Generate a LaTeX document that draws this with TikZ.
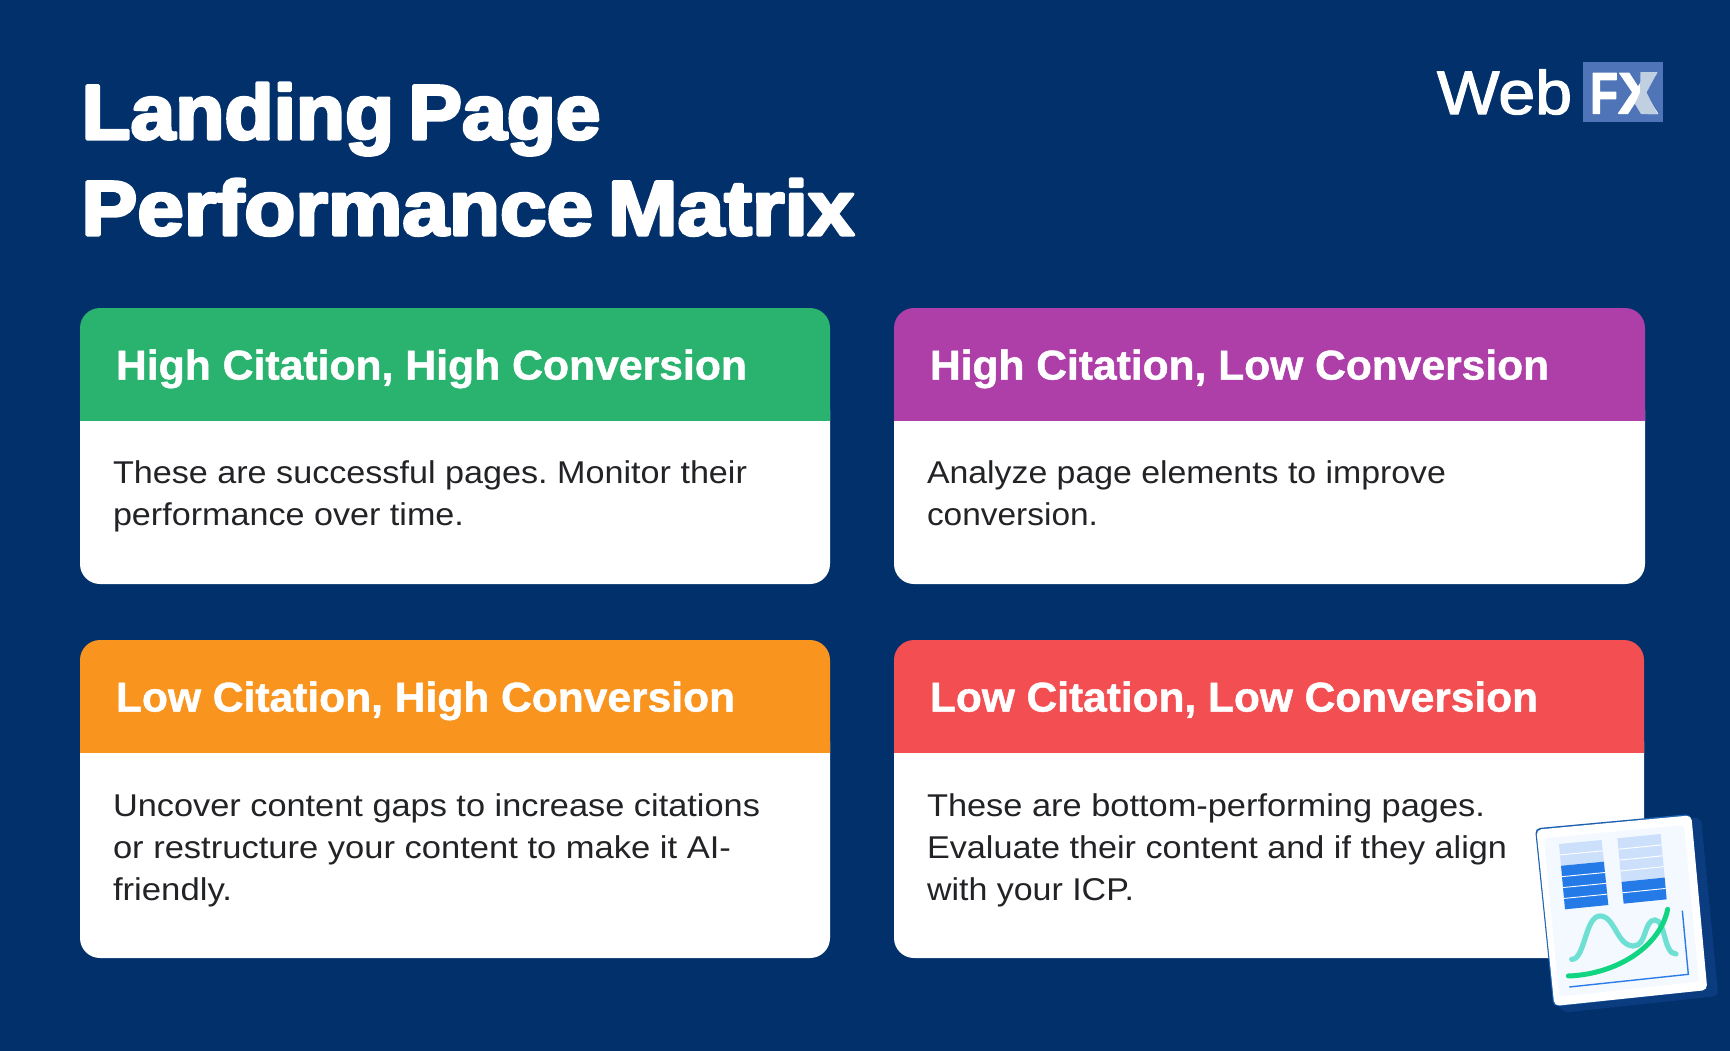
\documentclass[tikz,border=0pt]{standalone}
\usepackage{fontspec}
\usepackage{graphicx}
\usetikzlibrary{calc}
\setmainfont{Liberation Sans}
\newfontfamily\titlefont{Liberation Sans Bold}
\newfontfamily\headfont{Liberation Sans Bold}
\newfontfamily\logofont{Liberation Sans}
\newfontfamily\logobold{Liberation Sans Bold}
\newcommand\fitw[2]{\resizebox{#1pt}{\height}{#2}}
\newcommand\heavy[3]{\special{pdf:code 2 Tr 1 j #1 w #2 RG}#3\special{pdf:code 0 Tr 0 j 0 w}}
\definecolor{bgblue}{HTML}{01306B}
\definecolor{cardgreen}{HTML}{2AB36F}
\definecolor{cardpurple}{HTML}{AE3FA8}
\definecolor{cardorange}{HTML}{F9951F}
\definecolor{cardred}{HTML}{F34F52}
\definecolor{bodyink}{HTML}{222326}
\definecolor{logobox}{HTML}{4F75B8}
\definecolor{logolight}{HTML}{C0D0E0}
\definecolor{barlight}{HTML}{CCE0FC}
\definecolor{bardark}{HTML}{247BE8}
\definecolor{sheetline}{HTML}{1D5FB0}
\definecolor{sheetshadow}{HTML}{0C3C80}
\definecolor{sheetpanel}{HTML}{F4F8FF}
\definecolor{curveteal}{HTML}{6EE0D3}
\definecolor{curvegreen}{HTML}{11D580}
\definecolor{axisblue}{HTML}{2A7DE8}
\tikzset{
  txt/.style={inner sep=0pt,outer sep=0pt,anchor=base west},
  titletext/.style={txt,text=white,font=\titlefont\fontsize{77.5}{77.5}\selectfont},
  headtext/.style={txt,text=white,font=\headfont\fontsize{41.5}{41.5}\selectfont\frenchspacing},
  bodytext/.style={txt,text=bodyink,font=\fontsize{31.5}{31.5}\selectfont\frenchspacing},
}
\begin{document}
\begin{tikzpicture}[x=1pt,y=-1pt]
\useasboundingbox (0,0) rectangle (1730,1050);
\fill[bgblue] (-3,-3) rectangle (1733,1053);
% title
\node[titletext] (t1) at (81.5,139) {\fitw{519}{\heavy{3}{1 1 1}{Landing\hspace{-0.1em} Page}}};
\node[titletext] (t2) at (81.5,235) {\fitw{773}{\heavy{3}{1 1 1}{Performance\hspace{-0.1em} Matrix}}};
% logo
\node[txt,text=white,font=\logofont\fontsize{61.5}{61.5}\selectfont] (lw) at (1437,114) {\fitw{135}{\heavy{1.2}{1 1 1}{Web}}};
\fill[logobox] (1583,62) rectangle (1663,122);
\node[txt,text=white,font=\logobold\fontsize{58.7}{58.7}\selectfont] (lf) at (1590,113.5) {\fitw{28}{\heavy{1.2}{1 1 1}{F}}\fitw{40}{\heavy{1.2}{1 1 1}{X}}};
\fill[logolight] (1640.5,72) -- (1657.5,72) -- (1646.5,92.5) -- (1657.5,114) -- (1641,114) -- (1635,104) -- (1640,92.5) -- cycle;
% cards
\foreach \xa/\xb/\ya/\yh/\yb/\c in {80/830/308/420/584/cardgreen,894/1645/308/420/584/cardpurple,80/830/640/752/958/cardorange,894/1644/640/752/958/cardred}{
  \fill[white,rounded corners=20pt] (\xa,\yh-30) rectangle (\xb,\yb);
  \begin{scope}
    \clip (\xa,\ya) rectangle (\xb,\yh);
    \fill[\c,rounded corners=20pt] (\xa,\ya) rectangle (\xb,\yh+40);
  \end{scope}
}
% card texts
\node[headtext] (h1) at (116,379.5) {\fitw{631}{\heavy{0.5}{1 1 1}{High Citation, High Conversion}}};
\node[headtext] (h2) at (930,379.5) {\fitw{619}{\heavy{0.5}{1 1 1}{High Citation, Low Conversion}}};
\node[headtext] (h3) at (116,711.5) {\fitw{619}{\heavy{0.5}{1 1 1}{Low Citation, High Conversion}}};
\node[headtext] (h4) at (930,711.5) {\fitw{608}{\heavy{0.5}{1 1 1}{Low Citation, Low Conversion}}};
\node[bodytext] (b11) at (113,483) {\fitw{634}{These are successful pages. Monitor their}};
\node[bodytext] (b12) at (113,525) {\fitw{351}{performance over time.}};
\node[bodytext] (b21) at (927,483) {\fitw{519}{Analyze page elements to improve}};
\node[bodytext] (b22) at (927,525) {\fitw{171}{conversion.}};
\node[bodytext] (b31) at (113,816) {\fitw{647}{Uncover content gaps to increase citations}};
\node[bodytext] (b32) at (113,858) {\fitw{618}{or restructure your content to make it AI-}};
\node[bodytext] (b33) at (113,900) {\fitw{119}{friendly.}};
\node[bodytext] (b41) at (927,816) {\fitw{558}{These are bottom-performing pages.}};
\node[bodytext] (b42) at (927,858) {\fitw{580}{Evaluate their content and if they align}};
\node[bodytext] (b43) at (927,900) {\fitw{207}{with your ICP.}};
% report icon
\begin{scope}[shift={(1500,790)},x=0.3333pt,y=-0.3333pt]
  \fill[sheetshadow,rounded corners=6pt] (300,100) -- (603,82) -- (655,618) -- (190,668) -- (170,640) -- cycle;
  \fill[sheetline,rounded corners=5pt] (105,115) -- (572,72) -- (622,600) -- (160,650) -- cycle;
  \fill[white,rounded corners=5pt] (109,119) -- (574,76) -- (622,600) -- (163,648) -- cycle;
  \fill[sheetpanel,rounded corners=3pt] (132,145) -- (552,105) -- (597,575) -- (178,620) -- cycle;
  \coordinate (la) at (177,162); \coordinate (lb) at (305,150); \coordinate (lc) at (325,345); \coordinate (ld) at (195,358);
  \coordinate (ra) at (352,145); \coordinate (rb) at (482,132); \coordinate (rc) at (500,328); \coordinate (rd) at (371,341);
  \fill[barlight] (la) -- (lb) -- ($(lb)!0.3333!(lc)$) -- ($(la)!0.3333!(ld)$) -- cycle;
  \fill[bardark] ($(la)!0.3333!(ld)$) -- ($(lb)!0.3333!(lc)$) -- (lc) -- (ld) -- cycle;
  \fill[barlight] (ra) -- (rb) -- ($(rb)!0.6667!(rc)$) -- ($(ra)!0.6667!(rd)$) -- cycle;
  \fill[bardark] ($(ra)!0.6667!(rd)$) -- ($(rb)!0.6667!(rc)$) -- (rc) -- (rd) -- cycle;
  \foreach \t in {0.1667,0.5,0.6667,0.8333}
    \draw[white,line width=0.9pt] ($(la)!\t!(ld)$) -- ($(lb)!\t!(lc)$);
  \foreach \t in {0.1667,0.3333,0.5,0.8333}
    \draw[white,line width=0.9pt] ($(ra)!\t!(rd)$) -- ($(rb)!\t!(rc)$);
  \draw[curveteal,line width=5.2pt,line cap=round] (215,508) .. controls (255,510) and (255,378) .. (300,378) .. controls (345,378) and (350,467) .. (400,468) .. controls (442,468) and (430,390) .. (465,390) .. controls (497,390) and (490,492) .. (528,492);
  \draw[curvegreen,line width=5pt,line cap=round] (205,558) .. controls (350,553) and (480,470) .. (503,358);
  \draw[axisblue,line width=1.4pt] (547,362) -- (565,553) -- (208,591);
\end{scope}
\end{tikzpicture}
\end{document}
